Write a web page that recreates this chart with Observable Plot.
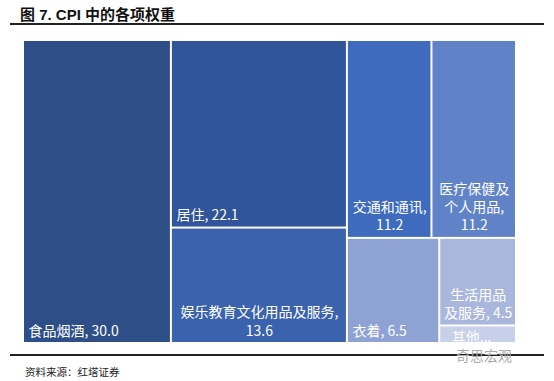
<!DOCTYPE html>
<html><head><meta charset="utf-8">
<script src="https://cdn.jsdelivr.net/npm/d3@7"></script>
<script src="https://cdn.jsdelivr.net/npm/@observablehq/plot@0.6"></script>
<style>
body{margin:0;background:#fff;width:554px;height:381px;position:relative;overflow:hidden;font-family:"Noto Sans CJK SC",sans-serif;}
#title{position:absolute;left:20px;top:3px;font:bold 15px "Liberation Sans","Noto Sans CJK SC",sans-serif;color:#111;white-space:nowrap;}
#rule1{position:absolute;left:10px;right:10px;top:23px;height:2px;background:#222;}
#chart{position:absolute;left:0;top:30px;}
#rule2{position:absolute;left:10px;right:10px;top:354px;height:1.5px;background:#222;}
#source{position:absolute;left:25px;top:364px;font-size:10.5px;color:#222;white-space:nowrap;}
#wm{position:absolute;left:456px;top:345px;font-size:14px;color:#aaa;white-space:nowrap;}
</style></head>
<body>
<div id="title">图 7. CPI 中的各项权重</div>
<div id="rule1"></div>
<div id="chart"></div>
<div id="rule2"></div>
<div id="source">资料来源：红塔证券</div>
<div id="wm">奇思宏观</div>
<script>
// Data
const categories = ["食品烟酒","居住","娱乐教育文化用品及服务","交通和通讯","医疗保健及\n个人用品","衣着","生活用品\n及服务","其他"];
const values = [30.0, 22.1, 13.6, 11.2, 11.2, 6.5, 4.5, 0.9];
const valueOnNewLine = [false, false, true, true, true, false, false, false];
const truncated = [false, false, false, false, false, false, false, true];
// Nesting of the treemap (indices into categories)
const nesting = [[0], [1, 2], [[3, 4], [5, [6, 7]]]];

// Style
const colors = ["#2E4E87","#30559B","#3A62AD","#3E6BBD","#6083C8","#8EA2D4","#AAB7DD","#C7CFE9"];

function build(n) {
  return Array.isArray(n) ? {children: n.map(build)} : {i: n, value: values[n]};
}
const root = d3.hierarchy(build(nesting)).sum(d => d.value || 0);
d3.treemap().tile(d3.treemapSliceDice).size([1, 1]).paddingInner(0)(root);
const leaves = root.leaves().map(n => ({
  i: n.data.i, x0: n.x0, x1: n.x1, y0: n.y0, y1: n.y1,
  label: truncated[n.data.i] ? categories[n.data.i] + "..." :
    categories[n.data.i] + "," + (valueOnNewLine[n.data.i] ? "\n" : " ") + values[n.data.i].toFixed(1),
  multi: categories[n.data.i].includes("\n") || valueOnNewLine[n.data.i],
  trunc: truncated[n.data.i]
}));

const font = "'Noto Sans CJK SC', sans-serif";
const chart = Plot.plot({
  width: 554, height: 320, marginTop: 0, marginLeft: 0, marginRight: 0, marginBottom: 7,
  x: {domain: [0, 1], range: [23, 516], axis: null},
  y: {domain: [0, 1], range: [10, 313], axis: null},
  marks: [
    Plot.rect(leaves, {x1: d => d.x0, x2: d => d.x1, y1: d => d.y0, y2: d => d.y1, fill: d => colors[d.i], inset: 1}),
    Plot.text(leaves.filter(d => !d.multi && !d.trunc), {x: d => d.x0, y: d => d.y1, text: "label", textAnchor: "start", lineAnchor: "bottom",
      dx: 5, dy: -8, fill: "white", fontSize: 14, fontFamily: font}),
    Plot.text(leaves.filter(d => d.trunc), {x: d => d.x0, y: d => d.y1, text: "label", textAnchor: "start", lineAnchor: "bottom",
      dx: 12, dy: -2, fill: "white", fontSize: 14, fontFamily: font, clip: true}),
    Plot.text(leaves.filter(d => d.multi), {x: d => (d.x0 + d.x1) / 2, y: d => d.y1, text: "label", textAnchor: "middle", lineAnchor: "bottom",
      dy: -8, fill: "white", fontSize: 14, fontFamily: font, lineHeight: 1.3})
  ]
});
document.getElementById("chart").appendChild(chart);
</script>
</body></html>
